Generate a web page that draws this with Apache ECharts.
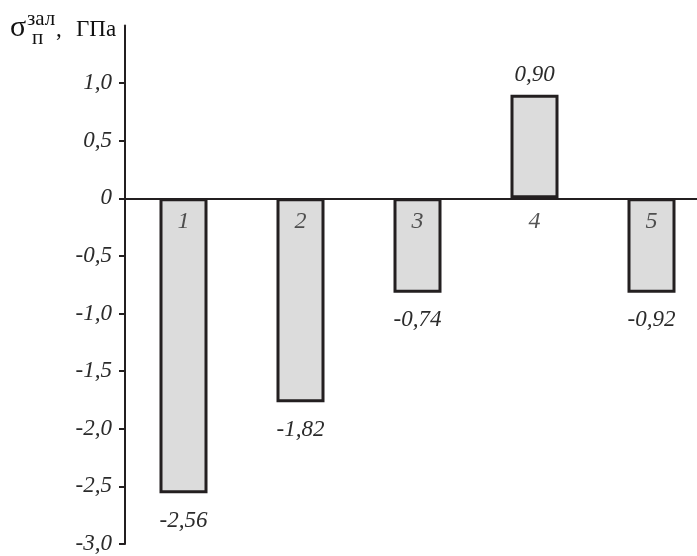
<!DOCTYPE html>
<html><head><meta charset="utf-8">
<script src="https://cdn.jsdelivr.net/npm/echarts@6/dist/echarts.min.js"></script>
<style>html,body{margin:0;padding:0;background:#fff}#c{width:697px;height:556px}</style>
</head><body><div id="c"></div>
<script>
const categories = ['1', '2', '3', '4', '5'];
const barValues = [-2.56, -1.77, -0.82, 0.90, -0.82];
const valueLabels = ['-2,56', '-1,82', '-0,74', '0,90', '-0,92'];
const yTicks = [-3, -2.5, -2, -1.5, -1, -0.5, 0, 0.5, 1];

const FONT = 'Liberation Serif';
const TXT = '#2b2b2b';
const LINE = '#231f20';

const chart = echarts.init(document.getElementById('c'), null, {renderer: 'canvas'});
const fmt = v => (Math.abs(v) < 1e-9 ? '0' : v.toFixed(1).replace('.', ','));

chart.setOption({
  animation: false,
  backgroundColor: '#fff',
  grid: {left: 125, right: -13, top: 25.5, bottom: 12, containLabel: false, outerBoundsMode: 'none'},
  xAxis: {
    type: 'category',
    data: categories,
    axisLine: {show: true, onZero: true, lineStyle: {color: LINE, width: 2}},
    axisTick: {show: false},
    axisLabel: {show: false},
    splitLine: {show: false}
  },
  yAxis: {
    type: 'value',
    min: -3, max: 1.5, interval: 0.5,
    axisLine: {show: true, lineStyle: {color: LINE, width: 2}},
    axisTick: {show: true, length: 6, customValues: yTicks, lineStyle: {color: LINE, width: 2}},
    axisLabel: {customValues: yTicks, margin: 13, fontSize: 23, fontStyle: 'italic', fontFamily: FONT, color: TXT, formatter: fmt},
    splitLine: {show: false}
  },
  series: [{
    type: 'bar',
    barWidth: 48,
    data: barValues.map((v, i) => ({
      value: v,
      label: {position: v < 0 ? 'bottom' : 'top', distance: v < 0 ? 16 : 8}
    })),
    itemStyle: {color: '#dcdcdc', borderColor: LINE, borderWidth: 3},
    label: {
      show: true,
      fontSize: 23, fontStyle: 'italic', fontFamily: FONT, color: TXT,
      formatter: p => valueLabels[p.dataIndex]
    }
  }, {
    type: 'scatter',
    silent: true,
    z: 5,
    symbolSize: 0,
    data: categories.map(() => 0),
    label: {
      show: true, position: 'bottom', distance: 11,
      fontSize: 24, fontStyle: 'italic', fontFamily: FONT, color: TXT,
      formatter: p => categories[p.dataIndex]
    }
  }],
  graphic: [
    {type: 'text', left: 10, top: 13, style: {text: 'σ', font: '30px "Liberation Serif"', fill: '#111'}},
    {type: 'text', left: 27, top: 8.5, style: {text: 'зал', font: '21px "Liberation Serif"', fill: '#111'}},
    {type: 'text', left: 32, top: 27.5, style: {text: 'п', font: '21px "Liberation Serif"', fill: '#111'}},
    {type: 'text', left: 56, top: 18.8, style: {text: ',', font: '23px "Liberation Serif"', fill: '#111'}},
    {type: 'text', left: 76, top: 18.8, style: {text: 'ГПа', font: '23px "Liberation Serif"', fill: '#111'}}
  ]
});
</script></body></html>
